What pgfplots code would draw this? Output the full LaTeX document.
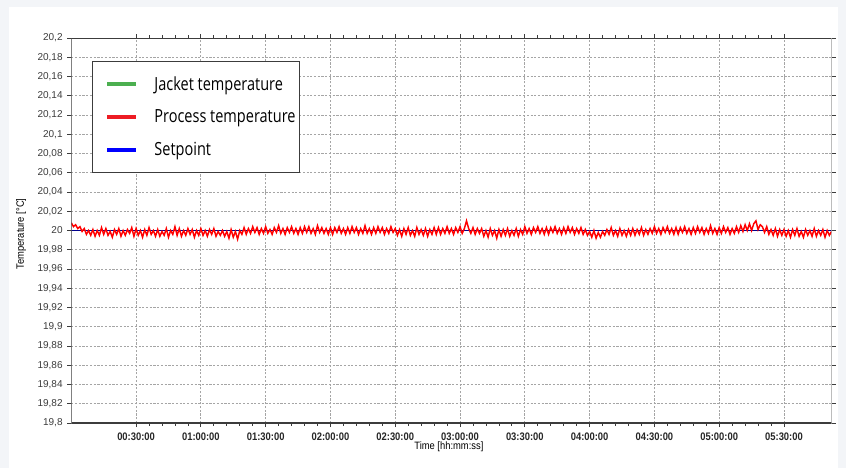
\documentclass[border=0pt]{standalone}
\usepackage{fontspec}
\setmainfont{Liberation Sans}
\newfontfamily\legfont{Open Sans}
\usepackage{graphicx}
\usepackage{pgfplots}
\pgfplotsset{compat=1.18}

\definecolor{pagebg}{RGB}{243,245,248}
\definecolor{gridgray}{RGB}{165,165,165}
\definecolor{axdark}{RGB}{60,60,60}
\definecolor{jacket}{RGB}{76,175,80}
\definecolor{procred}{RGB}{255,0,0}
\definecolor{legred}{RGB}{237,28,36}
\definecolor{setblue}{RGB}{0,0,255}

% narrow text as in the screenshot
\newcommand\xt[1]{\scalebox{0.86}[1]{#1}}
\newcommand\legtext[1]{\hspace{10pt}\scalebox{0.8}[1]{#1}}

\begin{document}
\begin{tikzpicture}[x=0.75pt,y=0.75pt]
% page and panel background (pixel units, origin bottom left)
\fill[pagebg] (0,0) rectangle (846,468);
\fill[white] (9,0) rectangle (838,461);

\begin{axis}[
  at={(53.475pt,33.75pt)}, anchor=south west,
  scale only axis,
  width=570.15pt, height=288.75pt,
  xmin=0, xmax=352,
  ymin=19.8, ymax=20.2,
  axis line style={draw=none},
  xtick={30,60,90,120,150,180,210,240,270,300,330},
  xticklabels={\xt{00:30:00},\xt{01:00:00},\xt{01:30:00},\xt{02:00:00},\xt{02:30:00},\xt{03:00:00},\xt{03:30:00},\xt{04:00:00},\xt{04:30:00},\xt{05:00:00},\xt{05:30:00}},
  minor x tick num=4,
  ytick={19.8,19.82,19.84,19.86,19.88,19.9,19.92,19.94,19.96,19.98,20,20.02,20.04,20.06,20.08,20.1,20.12,20.14,20.16,20.18,20.2},
  /pgf/number format/use comma,
  /pgf/number format/fixed,
  /pgf/number format/precision=2,
  /pgf/number format/assume math mode=true,
  yticklabel style={font=\fontsize{7.5}{8}\selectfont, text=axdark},
  xticklabel style={font=\fontsize{8.2}{9}\selectfont\bfseries, text=black!85, yshift=-0.8pt},
  tick align=outside,
  major tick length=3pt, minor tick length=2pt,
  tick style={axdark, line width=0.6pt},
  grid=major,
  major grid style={gridgray, line width=0.6pt, dash pattern=on 1.6pt off 1.2pt},
  xlabel={\scalebox{0.88}[1]{Time [hh:mm:ss]}},
  ylabel={\scalebox{0.88}[1]{Temperature [°C]}},
  xlabel style={font=\fontsize{8}{9}\selectfont, at={(axis description cs:0.4967,-0.0623)}, anchor=center},
  ylabel style={font=\fontsize{8}{9}\selectfont, at={(axis description cs:-0.0659,0.491)}, anchor=center},
  legend style={at={(axis description cs:0.0275,0.9403)}, anchor=north west,
    draw=axdark, line width=0.9pt, fill=white,
    font=\legfont\fontsize{13.6}{15}\selectfont,
    inner xsep=1pt, inner ysep=9pt, row sep=9.2pt},
  legend cell align=left,
  legend image code/.code={\path (0pt,0pt); \draw[line width=3pt] (8.5pt,0pt) -- (30.25pt,0pt);},
]
\addlegendimage{jacket, line width=3pt}
\addlegendentry{\legtext{Jacket temperature}}
\addlegendimage{legred, line width=3pt}
\addlegendentry{\legtext{Process temperature}}
\addlegendimage{setblue, line width=3pt}
\addlegendentry{\legtext{Setpoint}}

% setpoint
\addplot[forget plot, color=setblue!55!black, line width=0.6pt] coordinates {(0,20) (352,20)};

% process temperature, one reading per minute
\addplot[forget plot, color=procred, line width=1.1pt] coordinates {
(0,20.008)(1,20.004)(2,20.006)(3,20.002)(4,20.004)(5,19.999)(6,20.002)(7,19.996)(8,20.000)(9,19.995)
(10,20.001)(11,19.994)(12,20.000)(13,19.995)(14,20.003)(15,19.996)(16,20.002)(17,19.995)(18,19.999)(19,19.993)
(20,20.001)(21,19.996)(22,20.002)(23,19.994)(24,20.000)(25,19.995)(26,20.001)(27,19.997)(28,20.003)(29,19.994)
(30,20.002)(31,19.995)(32,20.000)(33,19.993)(34,20.001)(35,19.995)(36,20.003)(37,19.996)(38,20.000)(39,19.994)
(40,20.001)(41,19.994)(42,19.999)(43,19.995)(44,20.002)(45,19.993)(46,20.000)(47,19.996)(48,20.004)(49,19.995)
(50,20.002)(51,19.994)(52,20.000)(53,19.995)(54,20.002)(55,19.996)(56,20.001)(57,19.993)(58,20.000)(59,19.995)
(60,20.002)(61,19.995)(62,20.000)(63,19.994)(64,20.001)(65,19.996)(66,20.002)(67,19.994)(68,19.999)(69,19.995)
(70,20.000)(71,19.994)(72,19.999)(73,19.992)(74,20.001)(75,19.993)(76,19.999)(77,19.991)(78,20.000)(79,19.996)
(80,20.003)(81,19.996)(82,20.002)(83,19.997)(84,20.004)(85,19.998)(86,20.003)(87,19.996)(88,20.002)(89,19.997)
(90,20.004)(91,19.997)(92,20.001)(93,19.996)(94,20.003)(95,19.998)(96,20.005)(97,19.997)(98,20.002)(99,19.996)
(100,20.003)(101,19.998)(102,20.004)(103,19.997)(104,20.002)(105,19.996)(106,20.003)(107,19.997)(108,20.004)(109,19.998)
(110,20.004)(111,19.997)(112,20.002)(113,19.996)(114,20.005)(115,19.998)(116,20.003)(117,19.997)(118,20.002)(119,19.996)
(120,20.003)(121,19.996)(122,20.003)(123,19.998)(124,20.004)(125,19.997)(126,20.002)(127,19.996)(128,20.003)(129,19.997)
(130,20.004)(131,19.998)(132,20.003)(133,19.996)(134,20.002)(135,19.997)(136,20.005)(137,19.997)(138,20.002)(139,19.996)
(140,20.003)(141,19.997)(142,20.004)(143,19.998)(144,20.003)(145,19.996)(146,20.002)(147,19.997)(148,20.004)(149,19.998)
(150,20.002)(151,19.995)(152,20.001)(153,19.994)(154,20.002)(155,19.996)(156,20.003)(157,19.995)(158,20.000)(159,19.994)
(160,20.003)(161,19.996)(162,20.001)(163,19.995)(164,20.002)(165,19.994)(166,20.001)(167,19.996)(168,20.003)(169,19.996)
(170,20.003)(171,19.996)(172,20.002)(173,19.997)(174,20.004)(175,19.997)(176,20.002)(177,19.996)(178,20.003)(179,19.998)
(180,20.004)(181,19.997)(182,20.002)(183,20.010)(184,20.002)(185,19.997)(186,20.003)(187,19.996)(188,20.002)(189,19.997)
(190,20.002)(191,19.994)(192,20.000)(193,19.993)(194,20.002)(195,19.995)(196,20.000)(197,19.992)(198,20.001)(199,19.994)
(200,20.001)(201,19.995)(202,20.002)(203,19.994)(204,20.000)(205,19.995)(206,20.002)(207,19.994)(208,20.001)(209,19.996)
(210,20.004)(211,19.997)(212,20.002)(213,19.996)(214,20.003)(215,19.998)(216,20.004)(217,19.997)(218,20.002)(219,19.996)
(220,20.003)(221,19.996)(222,20.003)(223,19.998)(224,20.004)(225,19.997)(226,20.002)(227,19.996)(228,20.003)(229,19.997)
(230,20.004)(231,19.998)(232,20.003)(233,19.996)(234,20.002)(235,19.997)(236,20.003)(237,19.996)(238,20.001)(239,19.995)
(240,19.999)(241,19.993)(242,20.000)(243,19.992)(244,19.998)(245,19.993)(246,19.999)(247,19.995)(248,20.001)(249,19.996)
(250,20.003)(251,19.995)(252,20.000)(253,19.994)(254,20.002)(255,19.995)(256,20.000)(257,19.994)(258,20.001)(259,19.995)
(260,20.002)(261,19.995)(262,20.001)(263,19.996)(264,20.003)(265,19.995)(266,20.001)(267,19.996)(268,20.002)(269,19.997)
(270,20.004)(271,19.997)(272,20.002)(273,19.996)(274,20.003)(275,19.998)(276,20.004)(277,19.997)(278,20.002)(279,19.996)
(280,20.003)(281,19.996)(282,20.003)(283,19.998)(284,20.004)(285,19.997)(286,20.002)(287,19.996)(288,20.003)(289,19.997)
(290,20.004)(291,19.998)(292,20.003)(293,19.996)(294,20.002)(295,19.997)(296,20.005)(297,19.997)(298,20.002)(299,19.996)
(300,20.003)(301,19.997)(302,20.004)(303,19.998)(304,20.003)(305,19.996)(306,20.002)(307,19.997)(308,20.004)(309,19.998)
(310,20.005)(311,19.999)(312,20.006)(313,20.000)(314,20.007)(315,20.000)(316,20.007)(317,20.010)(318,20.001)(319,20.006)
(320,20.004)(321,19.998)(322,20.004)(323,19.996)(324,20.001)(325,19.995)(326,20.002)(327,19.994)(328,20.001)(329,19.995)
(330,20.001)(331,19.994)(332,20.000)(333,19.993)(334,20.001)(335,19.995)(336,20.002)(337,19.994)(338,19.999)(339,19.993)
(340,20.001)(341,19.995)(342,20.000)(343,19.994)(344,20.002)(345,19.994)(346,20.000)(347,19.995)(348,20.001)(349,19.993)
(350,20.000)(351,19.995)(352,19.999)
};

% axis frame: dark left and bottom, thin top, grey right
\draw[axdark, line width=1.4pt] (rel axis cs:0,1) -- (rel axis cs:0,0) -- (rel axis cs:1,0);
\draw[axdark, line width=0.7pt] (rel axis cs:0,1) -- (rel axis cs:1,1);
\draw[black!40, line width=1.5pt] (rel axis cs:1,0) -- (rel axis cs:1,1);
\end{axis}
\end{tikzpicture}
\end{document}
